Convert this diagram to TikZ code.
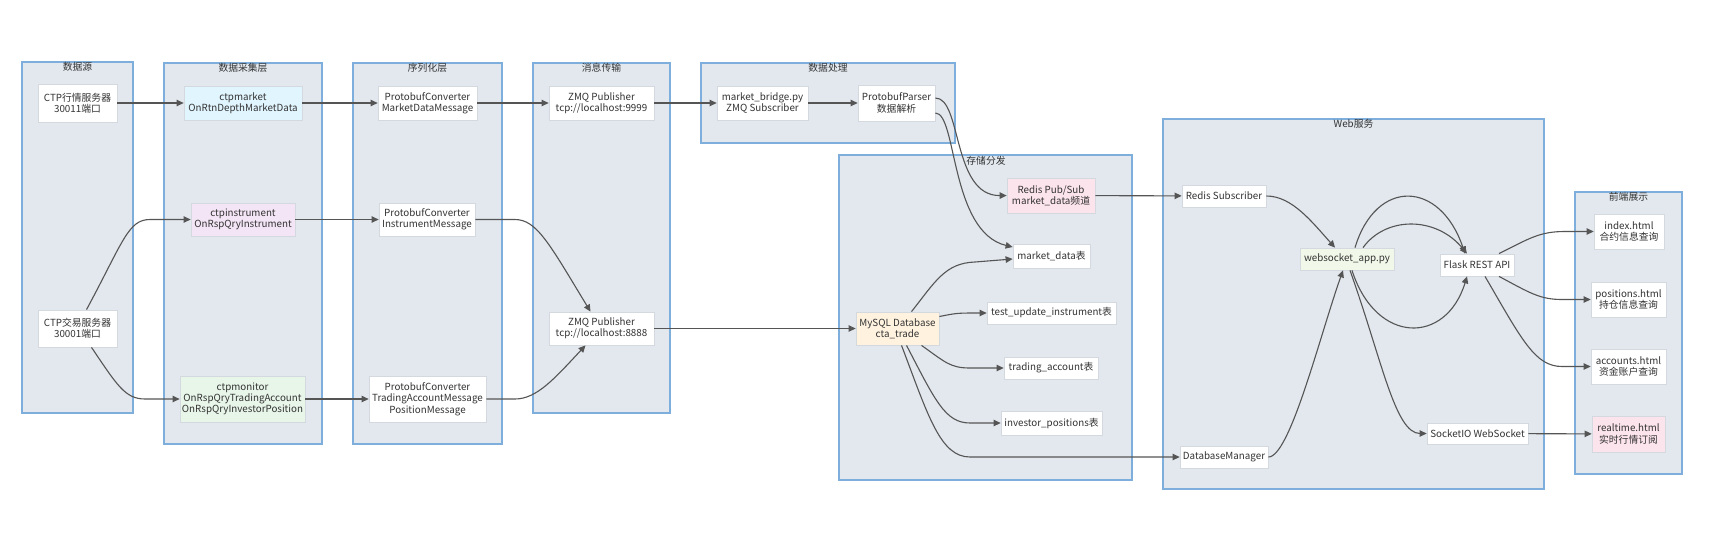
\documentclass[tikz,border=0pt]{standalone}
\usepackage{fontspec}
\setmainfont{Noto Sans CJK SC}
\usetikzlibrary{arrows.meta}
\definecolor{clfill}{HTML}{E2E8EE}
\definecolor{clborder}{HTML}{7EAEDC}
\definecolor{nborder}{HTML}{D3D9DF}
\definecolor{edgec}{HTML}{555555}
\definecolor{txt}{HTML}{333333}
\definecolor{cblue}{HTML}{E1F5FE}
\definecolor{cpurple}{HTML}{F3E5F5}
\definecolor{cgreen}{HTML}{E8F5E9}
\definecolor{corange}{HTML}{FFF3E0}
\definecolor{cpink}{HTML}{FCE4EC}
\definecolor{cws}{HTML}{F1F8E9}
\begin{document}
\begin{tikzpicture}[x=1pt,y=-1pt,
  font=\fontsize{9.8}{11.3}\selectfont,
  cluster/.style={draw=clborder,fill=clfill,line width=1.1pt},
  ctitle/.style={anchor=north,inner sep=0pt,text=txt},
  box/.style={draw=nborder,fill=white,line width=0.8pt,align=center,inner sep=0pt,text=txt},
  edge/.style={draw=edgec,line width=1.1pt,-{Triangle[length=7pt,width=6.5pt]}},
]
\useasboundingbox[fill=white] (0,0) rectangle (1715,554);

% clusters
\draw[cluster] (22,62) rectangle (133,413);
\draw[cluster] (164,63) rectangle (322,444);
\draw[cluster] (353,63) rectangle (502,444);
\draw[cluster] (533,63) rectangle (670,413);
\draw[cluster] (701,63) rectangle (955,143);
\draw[cluster] (839,155) rectangle (1132,480);
\draw[cluster] (1163,119) rectangle (1544,489);
\draw[cluster] (1575,192) rectangle (1682,474);

\node[ctitle] (t1) at (77.5,62) {数据源};
\node[ctitle] (t2) at (243,63) {数据采集层};
\node[ctitle] (t3) at (427.5,63) {序列化层};
\node[ctitle] (t4) at (601.5,63) {消息传输};
\node[ctitle] (t5) at (828,63) {数据处理};
\node[ctitle] (t6) at (986,156) {存储分发};
\node[ctitle] (t7) at (1353.5,119) {Web服务};
\node[ctitle] (t8) at (1628.5,192) {前端展示};

% nodes
\node[box,minimum width=79pt,minimum height=38pt] (src1) at (77.5,103) {CTP行情服务器\\30011端口};
\node[box,minimum width=79pt,minimum height=37pt] (src2) at (77.5,328.5) {CTP交易服务器\\30001端口};
\node[box,fill=cblue,minimum width=118pt,minimum height=34pt] (cmk) at (243,103) {ctpmarket\\OnRtnDepthMarketData};
\node[box,fill=cpurple,minimum width=104pt,minimum height=33pt] (cin) at (243,219.5) {ctpinstrument\\OnRspQryInstrument};
\node[box,fill=cgreen,minimum width=125pt,minimum height=46pt] (cmo) at (242.5,399) {ctpmonitor\\OnRspQryTradingAccount\\OnRspQryInvestorPosition};
\node[box,minimum width=99pt,minimum height=34pt] (pcm) at (427.5,103) {ProtobufConverter\\MarketDataMessage};
\node[box,minimum width=96pt,minimum height=33pt] (pci) at (427,219.5) {ProtobufConverter\\InstrumentMessage};
\node[box,minimum width=117pt,minimum height=46pt] (pct) at (427.5,399) {ProtobufConverter\\TradingAccountMessage\\PositionMessage};
\node[box,minimum width=105pt,minimum height=34pt] (zmq1) at (601.5,103) {ZMQ Publisher\\tcp://localhost:9999};
\node[box,minimum width=105pt,minimum height=33pt] (zmq2) at (601.5,328.5) {ZMQ Publisher\\tcp://localhost:8888};
\node[box,minimum width=91pt,minimum height=34pt] (brg) at (762.5,103) {market\_bridge.py\\ZMQ Subscriber};
\node[box,minimum width=77pt,minimum height=36pt] (prs) at (896.5,103) {ProtobufParser\\数据解析};
\node[box,fill=cpink,minimum width=88pt,minimum height=35pt] (rpub) at (1051,195.5) {Redis Pub/Sub\\market\_data频道};
\node[box,minimum width=77pt,minimum height=24pt] (mdt) at (1051.5,256) {market\_data表};
\node[box,minimum width=129pt,minimum height=22pt] (tui) at (1051.5,313) {test\_update\_instrument表};
\node[box,minimum width=94pt,minimum height=22pt] (tat) at (1051,368) {trading\_account表};
\node[box,minimum width=101pt,minimum height=24pt] (ipt) at (1051.5,423) {investor\_positions表};
\node[box,fill=corange,minimum width=83pt,minimum height=33pt] (sql) at (897.5,328.5) {MySQL Database\\cta\_trade};
\node[box,minimum width=84pt,minimum height=22pt] (rsub) at (1224,196) {Redis Subscriber};
\node[box,minimum width=88pt,minimum height=22pt] (dbm) at (1224,457) {DatabaseManager};
\node[box,fill=cws,minimum width=94pt,minimum height=22pt] (wsa) at (1347,259) {websocket\_app.py};
\node[box,minimum width=74pt,minimum height=22pt] (fls) at (1477,265) {Flask REST API};
\node[box,minimum width=101pt,minimum height=21pt] (sio) at (1477.5,433.5) {SocketIO WebSocket};
\node[box,minimum width=70pt,minimum height=35pt] (idx) at (1629,231.5) {index.html\\合约信息查询};
\node[box,minimum width=75pt,minimum height=35pt] (pos) at (1628.5,299.5) {positions.html\\持仓信息查询};
\node[box,minimum width=75pt,minimum height=35pt] (acc) at (1628.5,366.5) {accounts.html\\资金账户查询};
\node[box,fill=cpink,minimum width=73pt,minimum height=36pt] (rt) at (1628.5,434) {realtime.html\\实时行情订阅};

% edges
\draw[edge] (src1) -- (cmk);
\draw[edge] ([xshift=9pt]src2.north) .. controls (123,242) and (128,219.5) .. (150,219.5) -- (cin.west);
\draw[edge] ([xshift=14pt]src2.south) .. controls (117,385) and (125,399) .. (145,399) -- (cmo.west);
\draw[edge] (cmk) -- (pcm);
\draw[edge] (cin) -- (pci);
\draw[edge] (cmo) -- (pct);
\draw[edge] (pcm) -- (zmq1);
\draw[edge] (pci.east) -- (515,219.5) .. controls (537,219.5) and (550,245) .. ([xshift=-11pt]zmq2.north);
\draw[edge] (pct.east) -- (515,399) .. controls (537,399) and (555,378) .. ([xshift=-16pt]zmq2.south);
\draw[edge] (zmq1) -- (brg);
\draw[edge] (brg) -- (prs);
\draw[edge] ([yshift=5pt]prs.east) .. controls (962,98) and (952,196) .. (rpub.west);
\draw[edge] ([yshift=-10pt]prs.east) .. controls (957,113) and (950,232) .. ([yshift=9pt]mdt.west);
\draw[edge] (zmq2) -- (sql);
\draw[edge] ([xshift=14pt]sql.north) .. controls (935,282) and (945,263) .. (975,262) -- ([yshift=-3pt]mdt.west);
\draw[edge] ([yshift=12pt]sql.east) .. controls (957,313) .. (tui.west);
\draw[edge] ([xshift=24pt]sql.south) .. controls (945,362) and (950,368) .. (970,368) -- (tat.west);
\draw[edge] ([xshift=9pt]sql.south) .. controls (935,400) and (945,423) .. (970,423) -- (ipt.west);
\draw[edge] ([xshift=4pt]sql.south) .. controls (928,415) and (940,457) .. (970,457) -- (dbm.west);
\draw[edge] (rpub) -- (rsub);
\draw[edge] (rsub.east) .. controls (1292,196) and (1312,222) .. ([xshift=-12pt]wsa.north);
\draw[edge] (dbm.east) .. controls (1290,457) and (1320,335) .. ([xshift=-4pt]wsa.south);
\draw[edge] ([xshift=8pt]wsa.north) .. controls (1376,178) and (1440,180) .. ([xshift=-12pt]fls.north);
\draw[edge] ([xshift=16pt]wsa.north) .. controls (1386,216) and (1436,216) .. ([xshift=-10pt]fls.north);
\draw[edge] ([xshift=5pt]wsa.south) .. controls (1376,345) and (1446,345) .. ([xshift=-10pt]fls.south);
\draw[edge] ([xshift=3pt]wsa.south) .. controls (1382,360) and (1395,433.5) .. (1420,433.5) -- (sio.west);
\draw[edge] ([xshift=22pt]fls.north) .. controls (1530,238) and (1540,231.5) .. (1565,231.5) -- (idx.west);
\draw[edge] ([xshift=22pt]fls.south) .. controls (1530,293) and (1540,299.5) .. (1562,299.5) -- (pos.west);
\draw[edge] ([xshift=8pt]fls.south) .. controls (1522,340) and (1535,366.5) .. (1562,366.5) -- (acc.west);
\draw[edge] (sio) -- (rt);
\end{tikzpicture}
\end{document}
